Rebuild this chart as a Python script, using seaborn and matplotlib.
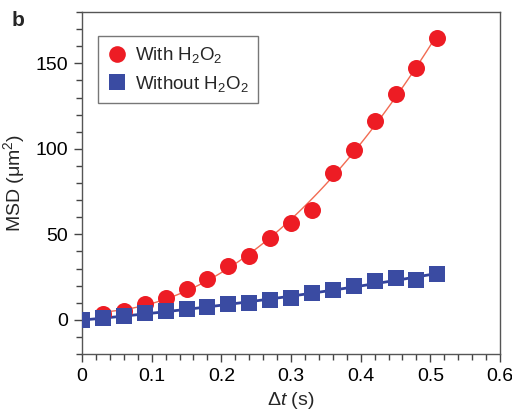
import numpy as np
import pandas as pd
import seaborn as sns
import matplotlib
matplotlib.use("Agg")
import matplotlib.pyplot as plt
from matplotlib.ticker import MultipleLocator
from matplotlib.lines import Line2D

# ---- data ----
t_with = [0.03, 0.06, 0.09, 0.12, 0.15, 0.18, 0.21, 0.24, 0.27, 0.30,
          0.33, 0.36, 0.39, 0.42, 0.45, 0.48, 0.51]
msd_with = [3.3, 5.3, 9.5, 13.0, 18.3, 23.8, 31.6, 37.4, 47.8, 56.9,
            64.3, 85.6, 99.5, 116.0, 132.3, 147.5, 165.0]
t_without = [0.0, 0.03, 0.06, 0.09, 0.12, 0.15, 0.18, 0.21, 0.24, 0.27,
             0.30, 0.33, 0.36, 0.39, 0.42, 0.45, 0.48, 0.51]
msd_without = [0.0, 0.8, 2.0, 3.7, 5.3, 6.2, 7.2, 9.2, 10.1, 11.5,
               13.0, 15.6, 17.4, 19.9, 22.4, 24.7, 23.2, 26.7]
labels = ["With H$_2$O$_2$", "Without H$_2$O$_2$"]
x_ticks = [0, 0.1, 0.2, 0.3, 0.4, 0.5, 0.6]
x_tick_labels = ["0", "0.1", "0.2", "0.3", "0.4", "0.5", "0.6"]
y_ticks = [0, 50, 100, 150]

red = "#ED1C24"
red_line = "#F26B52"
blue = "#3A4BA2"
blue_line = "#33439C"

sns.set_theme(style="ticks")
plt.rcParams["font.family"] = ["Liberation Sans", "DejaVu Sans"]
plt.rcParams["mathtext.fontset"] = "custom"
plt.rcParams["mathtext.rm"] = "Liberation Sans"
plt.rcParams["mathtext.it"] = "Liberation Sans:italic"
plt.rcParams["mathtext.default"] = "regular"

df_w = pd.DataFrame({"t": t_with, "msd": msd_with})
df_wo = pd.DataFrame({"t": t_without, "msd": msd_without})

fig = plt.figure(figsize=(5.12, 4.12), dpi=100)
ax = fig.add_axes([82 / 512, 58 / 412, 418 / 512, 342 / 412])

# fitted curves
sns.regplot(data=df_wo, x="t", y="msd", order=2, ci=None, scatter=False,
            ax=ax, line_kws=dict(color=blue_line, lw=2.0, zorder=2))
sns.regplot(data=df_w, x="t", y="msd", order=2, ci=None, scatter=False,
            ax=ax, line_kws=dict(color=red_line, lw=1.0, zorder=2))

# markers
sns.scatterplot(data=df_w, x="t", y="msd", ax=ax, color=red, marker="o",
                s=150, linewidth=0, zorder=3)
sns.scatterplot(data=df_wo, x="t", y="msd", ax=ax, color=blue, marker="s",
                s=130, linewidth=0, zorder=4)

ax.set_xlim(0, 0.6)
ax.set_ylim(-20, 180)
ax.set_xticks(x_ticks)
ax.set_xticklabels(x_tick_labels)
ax.set_yticks(y_ticks)
ax.xaxis.set_minor_locator(MultipleLocator(0.02))
ax.yaxis.set_minor_locator(MultipleLocator(10))
ax.tick_params(which="major", direction="out", length=6, width=1,
               color="#444444", labelsize=14, labelcolor="black", pad=4)
ax.tick_params(which="minor", direction="out", length=4, width=1,
               color="#444444")
for sp in ax.spines.values():
    sp.set_color("#555555")
    sp.set_linewidth(1.0)

ax.set_xlabel(r"Δ$\mathit{t}$ (s)", fontsize=14, labelpad=4)
ax.set_ylabel("MSD (μm$^2$)", fontsize=14, labelpad=6)

handles = [
    Line2D([], [], ls="none", marker="o", markersize=12, color=red,
           markeredgewidth=0),
    Line2D([], [], ls="none", marker="s", markersize=11, color=blue,
           markeredgewidth=0),
]
leg = ax.legend(handles, labels, loc="upper left",
                bbox_to_anchor=(0.038, 0.93), borderaxespad=0,
                fontsize=13.5, frameon=True, fancybox=False,
                handletextpad=0.5, borderpad=0.5, labelspacing=0.45,
                handlelength=1.0)
leg.get_frame().set_edgecolor("#555555")
leg.get_frame().set_linewidth(1.0)

fig.text(12 / 512, 1 - 20 / 412, "b", fontsize=15, fontweight="bold",
         va="center", ha="left")

fig.savefig("out.png", dpi=100)
